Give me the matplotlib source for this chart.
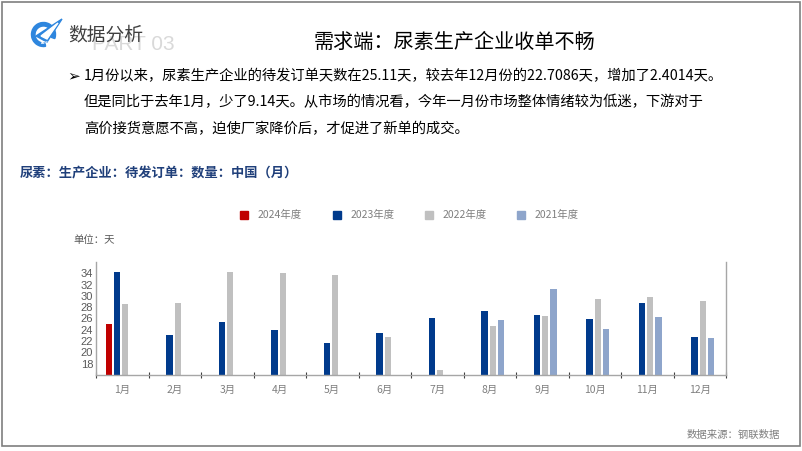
import numpy as np
import matplotlib
matplotlib.use("Agg")
import matplotlib.pyplot as plt
from matplotlib.patches import Rectangle, Polygon, Wedge

plt.rcParams['font.family'] = ['Noto Sans CJK SC', 'DejaVu Sans']

# ================================================          Data          ================================================

months = ["1月", "2月", "3月", "4月", "5月", "6月", "7月", "8月", "9月", "10月", "11月", "12月"]
series_names = ["2024年度", "2023年度", "2022年度", "2021年度"]
nan = np.nan
y2024 = [25.11, nan, nan, nan, nan, nan, nan, nan, nan, nan, nan, nan]
y2023 = [34.25, 23.0, 25.36, 23.94, 21.75, 23.47, 26.13, 27.3, 26.67, 25.96, 28.8, 22.71]
y2022 = [28.5, 28.74, 34.3, 34.07, 33.66, 22.8, 16.9, 24.65, 26.49, 29.4, 29.8, 29.04]
y2021 = [nan, nan, nan, nan, nan, nan, nan, 25.78, 31.23, 24.12, 26.25, 22.6]
colors = ["#C00000", "#003A8C", "#C0C0C0", "#8EA5CB"]

# ================================================          Figure          ================================================

W, H = 802, 451
fig = plt.figure(figsize=(W / 100, H / 100), dpi=100)

def fx(px):
    return px / W

def fy(py):
    return 1 - py / H

# frame
fig.patches.append(Rectangle((fx(1.5), fy(446)), fx(798.5), (446 - 1.5) / H,
                             transform=fig.transFigure, fill=False, ec="#7F7F7F", lw=1.2))

# logo (drawn in its own pixel-scaled axes)
lx0, ly0, lw = 28, 14, 40
lax = fig.add_axes([fx(lx0), fy(ly0 + lw), fx(lw), lw / H])
lax.set_xlim(lx0, lx0 + lw)
lax.set_ylim(ly0 + lw, ly0)
lax.axis("off")
lax.add_patch(Wedge((43.5, 34.5), 12, 80, 20, width=3.5, color="#2E86DE"))
lax.add_patch(Polygon([(36, 36), (62, 19), (47, 42)], closed=True, color="#2E86DE"))
lax.add_patch(Polygon([(41, 36), (58, 23), (47, 39)], closed=True, color="white"))
lax.text(43.5, 43.5, "AVIC", fontsize=2.5, color="white", ha="center", va="center", fontweight="bold")

fig.text(fx(92), fy(44), "PART 03", fontsize=15, color="#D9D9D9", va="center", ha="left",
         family=["Liberation Sans", "DejaVu Sans"], zorder=0)
fig.text(fx(68), fy(35), "数据分析", fontsize=13.5, color="#404040", va="center", ha="left", zorder=2)
fig.text(fx(455), fy(42), "需求端：尿素生产企业收单不畅", fontsize=14.5, color="#000000",
         va="center", ha="center")

# bullet text
fig.text(fx(67), fy(76), "➢", fontsize=11, color="#000000", va="center", ha="left",
         family=["DejaVu Sans"])
lines = [
    "1月份以来，尿素生产企业的待发订单天数在25.11天，较去年12月份的22.7086天，增加了2.4014天。",
    "但是同比于去年1月，少了9.14天。从市场的情况看，今年一月份市场整体情绪较为低迷，下游对于",
    "高价接货意愿不高，迫使厂家降价后，才促进了新单的成交。",
]
for i, ln in enumerate(lines):
    fig.text(fx(84), fy(76 + i * 26.5), ln, fontsize=10.3, color="#000000", va="center", ha="left")

fig.text(fx(20), fy(173), "尿素：生产企业：待发订单：数量：中国（月）", fontsize=9.5,
         color="#1F3F7A", fontweight="bold", va="center", ha="left")
fig.text(fx(73), fy(240), "单位：天", fontsize=7.5, color="#595959", va="center", ha="left")
fig.text(fx(780), fy(435), "数据来源：钢联数据", fontsize=7.5, color="#7F7F7F", va="center", ha="right")

# ================================================          Chart          ================================================

ax = fig.add_axes([fx(96), fy(375), fx(726 - 96), (375 - 262) / H])
x = np.arange(len(months))
slot = 0.158
bw = 0.12
all_series = [y2024, y2023, y2022, y2021]
for k, (vals, c, name) in enumerate(zip(all_series, colors, series_names)):
    ax.bar(x + (k - 1.5) * slot - 0.02, np.array(vals) - 16, bottom=16, width=bw,
           color=c, label=name)

ax.set_xlim(-0.5, 11.5)
ax.set_ylim(16, 36)
ax.set_yticks(np.arange(18, 35, 2))
ax.set_xticks(np.arange(-0.5, 12, 1))
ax.set_xticklabels([])
ax.set_xticks(x, minor=True)
ax.set_xticklabels(months, minor=True)
ax.tick_params(axis="x", which="major", length=4, direction="inout", color="#404040")
ax.tick_params(axis="x", which="minor", length=0, pad=7, labelsize=7.5, labelcolor="#7F7F7F")
ax.tick_params(axis="y", length=0, pad=2, labelsize=8, labelcolor="#595959")
for lbl in ax.get_yticklabels():
    lbl.set_family(["Liberation Sans", "DejaVu Sans"])
ax.spines["top"].set_visible(False)
for s in ["left", "bottom", "right"]:
    ax.spines[s].set_color("#A6A6A6")
    ax.spines[s].set_linewidth(1.0)
ax.set_facecolor("none")

# legend
leg_x = [240, 333, 425, 517]
for px, c, name in zip(leg_x, colors, series_names):
    fig.patches.append(Rectangle((fx(px), fy(219)), fx(8), 8 / H, transform=fig.transFigure, color=c))
    fig.text(fx(px + 18), fy(214.5), name, fontsize=7.5, color="#7F7F7F", va="center", ha="left")

fig.savefig("out.png", dpi=100)
